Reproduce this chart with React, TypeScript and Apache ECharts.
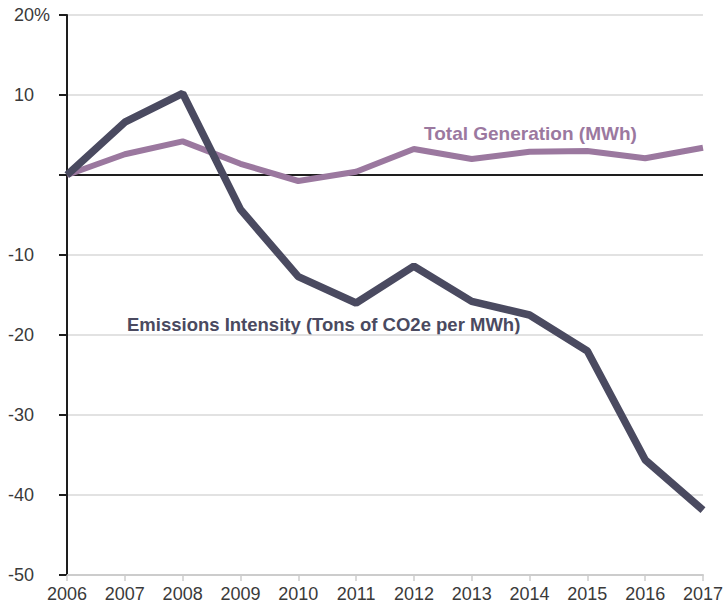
import React, { useEffect, useRef } from "react";
import * as echarts from "echarts";

const years = ["2006", "2007", "2008", "2009", "2010", "2011", "2012", "2013", "2014", "2015", "2016", "2017"];
const emissionsIntensity = [0, 6.6, 10.2, -4.3, -12.7, -16.0, -11.4, -15.8, -17.5, -22.0, -35.6, -41.9];
const totalGeneration = [0, 2.6, 4.2, 1.4, -0.75, 0.4, 3.25, 2.0, 2.9, 3.0, 2.1, 3.4];
const emissionsName = "Emissions Intensity (Tons of CO2e per MWh)";
const generationName = "Total Generation (MWh)";

const FONT = "'Liberation Sans', Arial, Helvetica, sans-serif";

export default function App() {
  const ref = useRef<HTMLDivElement>(null);
  useEffect(() => {
    if (!ref.current) return;
    const chart = echarts.init(ref.current, null, { renderer: "svg" });
    chart.setOption({
      animation: false,
      textStyle: { fontFamily: FONT },
      grid: { left: 67, right: 23, top: 15, bottom: 31, containLabel: false },
      xAxis: {
        type: "category",
        data: years,
        boundaryGap: false,
        axisLine: { show: true, onZero: false, lineStyle: { color: "#cccccc", width: 2 } },
        axisTick: { show: true, alignWithLabel: true, length: 6, lineStyle: { color: "#cccccc", width: 1.5 } },
        axisLabel: { color: "#3a3a3a", fontSize: 18, margin: 10, fontFamily: FONT },
        splitLine: { show: false },
      },
      yAxis: {
        type: "value",
        min: -50,
        max: 20,
        interval: 10,
        axisLine: { show: true, onZero: false, lineStyle: { color: "#1e1e1e", width: 2 } },
        axisTick: { show: true, length: 8, lineStyle: { color: "#1e1e1e", width: 2 } },
        axisLabel: {
          color: "#3a3a3a",
          fontSize: 18,
          margin: 63,
          align: "left",
          fontFamily: FONT,
          formatter: (v: number) => (v === 0 ? "" : v === 20 ? "{m|20%}" : `{n|${v}}`),
          rich: {
            n: { width: 30, align: "right", fontSize: 18, color: "#3a3a3a", fontFamily: FONT },
            m: { padding: [0, 0, 0, 10], fontSize: 18, color: "#3a3a3a", fontFamily: FONT },
          },
        },
        splitLine: {
          show: true,
          lineStyle: { color: "#d9d9d9", width: 1.5 },
        },
      },
      series: [
        {
          name: generationName,
          type: "line",
          data: totalGeneration,
          symbol: "none",
          lineStyle: { color: "#9b789f", width: 6 },
          z: 3,
          markLine: {
            silent: true,
            symbol: "none",
            label: { show: false },
            lineStyle: { color: "#1e1e1e", width: 2, type: "solid" },
            data: [{ yAxis: 0 }],
            z: 2,
          },
        },
        {
          name: emissionsName,
          type: "line",
          data: emissionsIntensity,
          symbol: "none",
          lineStyle: { color: "#4a4a60", width: 7.5 },
          z: 4,
        },
      ],
      graphic: [
        {
          type: "text",
          left: 424,
          top: 124,
          style: { text: generationName, fill: "#9b789f", font: `bold 19px ${FONT}` },
        },
        {
          type: "text",
          left: 127,
          top: 315,
          style: { text: emissionsName, fill: "#4a4a60", font: `bold 18.5px ${FONT}` },
        },
      ],
    });
    return () => chart.dispose();
  }, []);
  return <div ref={ref} style={{ width: 726, height: 606, position: "absolute", left: 0, top: 0 }} />;
}
